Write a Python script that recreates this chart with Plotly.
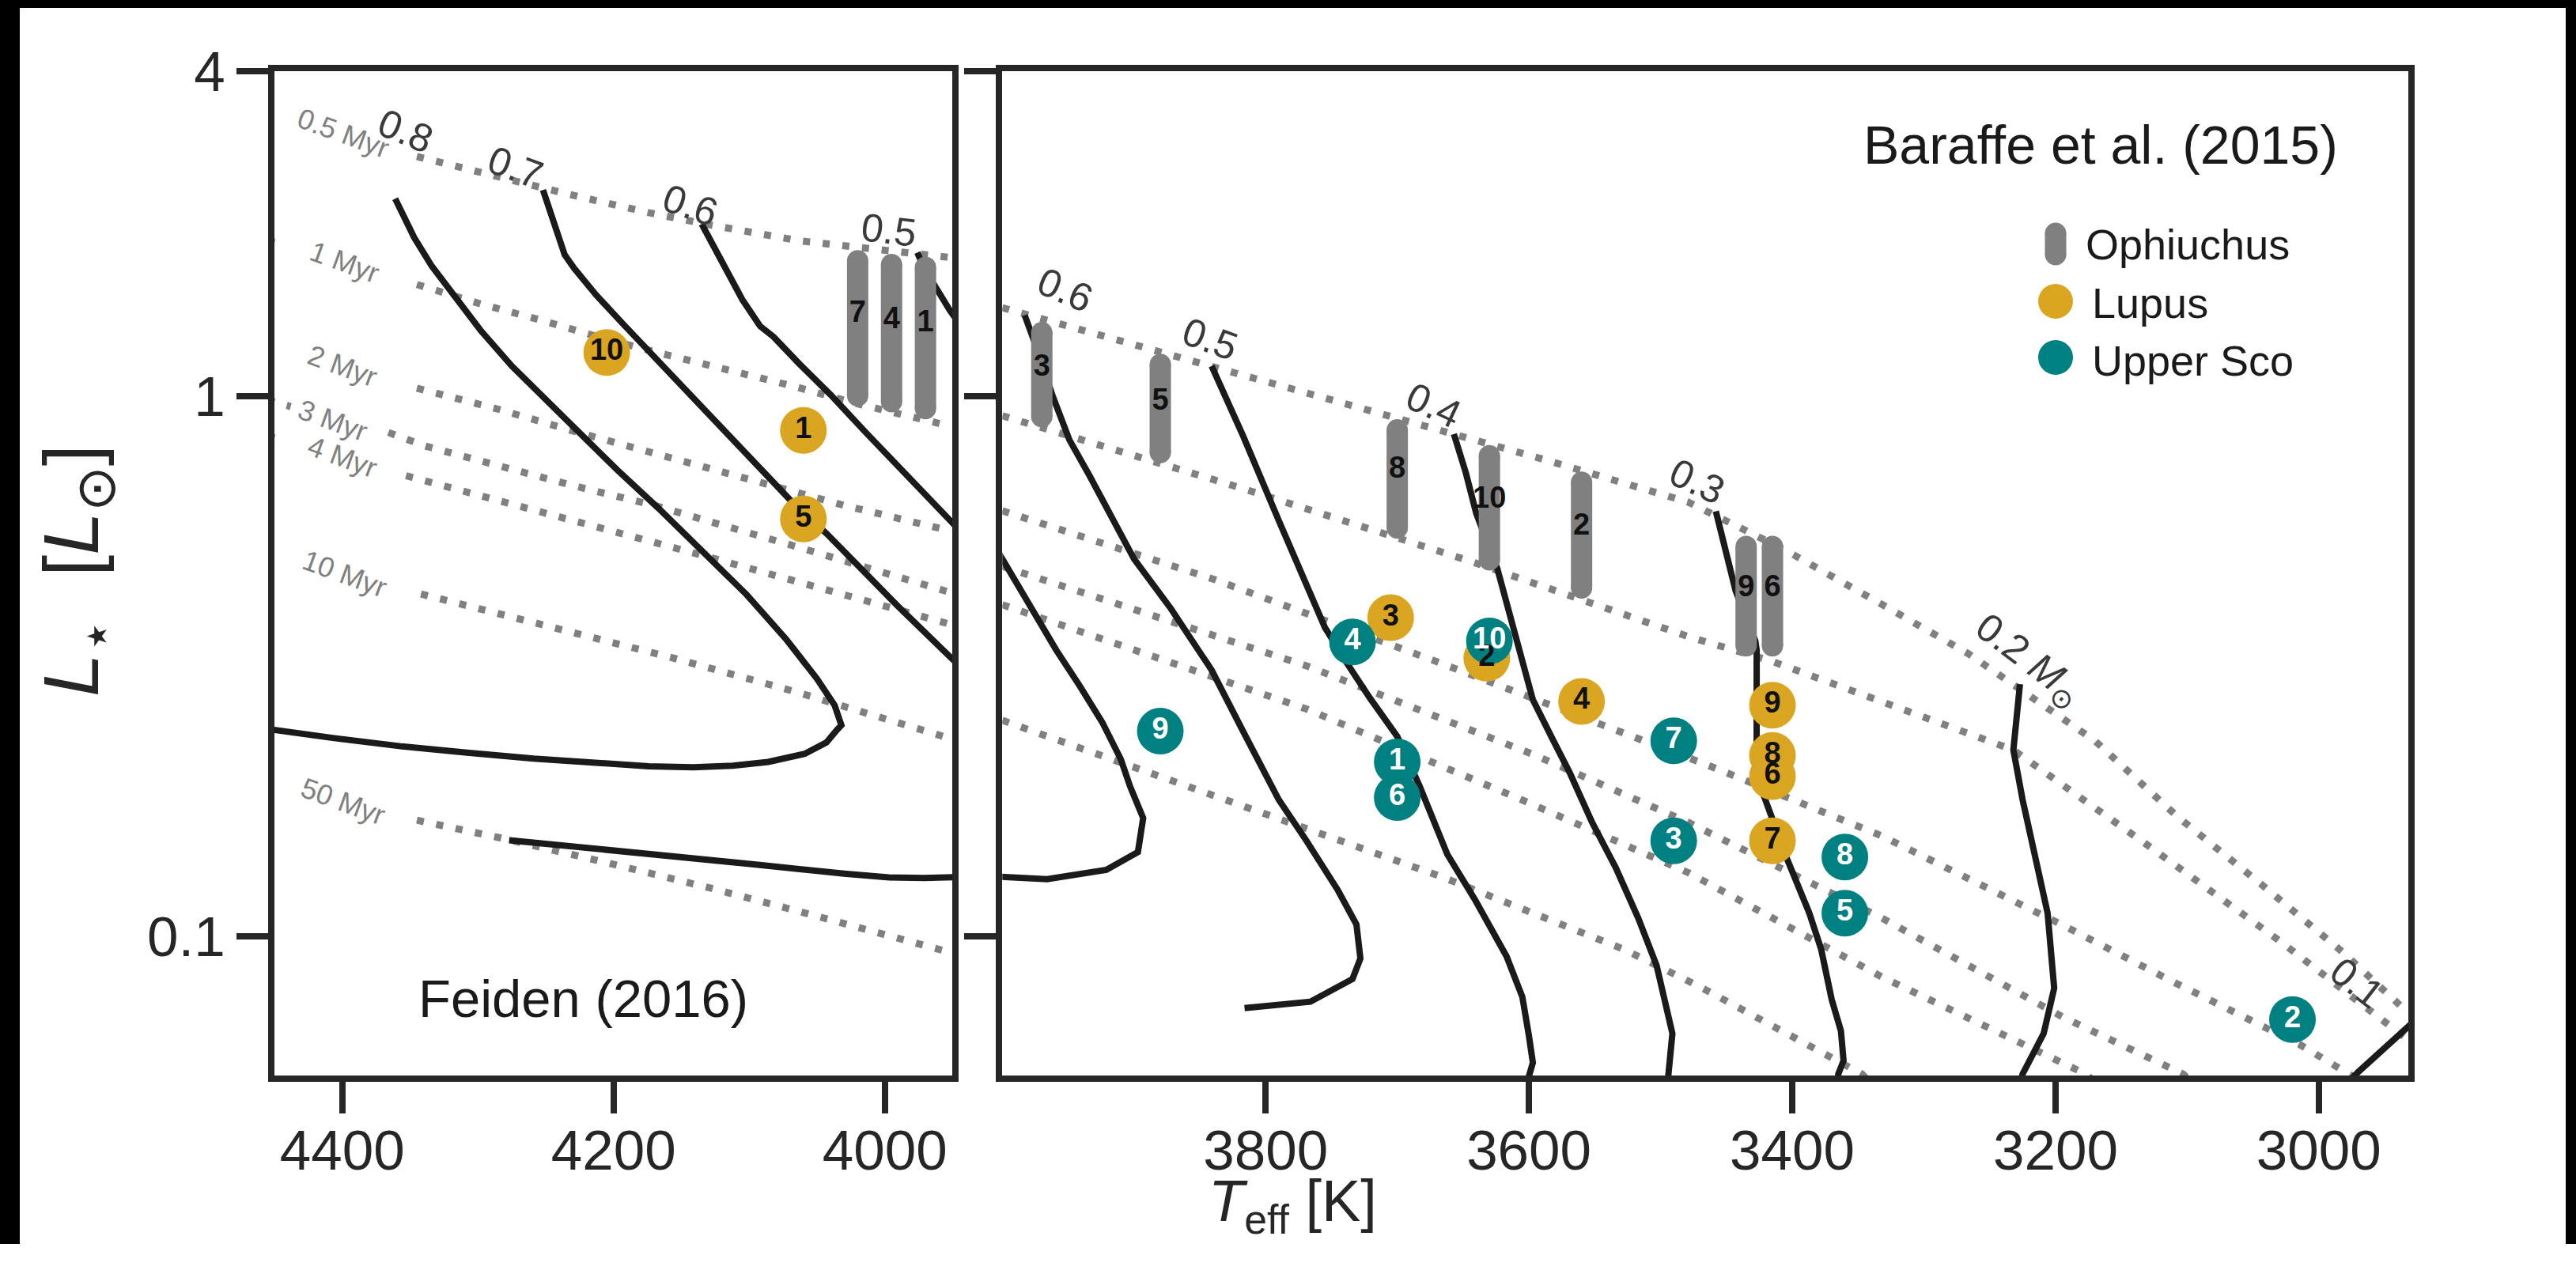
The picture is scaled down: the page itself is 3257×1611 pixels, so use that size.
import numpy as np
import plotly.graph_objects as go

# ------------------------------------------------------------------
# DATA  (Teff in K, luminosity given as log10(L/Lsun))
# ------------------------------------------------------------------
# --- Left panel: Feiden (2016) mass tracks ---
F08_T = [4361, 4357, 4347, 4334, 4317, 4298, 4275, 4252, 4226, 4197, 4167, 4135, 4102, 4073, 4050, 4037, 4032,
         4035, 4043, 4059, 4086, 4112, 4141, 4174, 4210, 4259, 4308, 4357, 4406, 4448, 4461]
F08_LOGL = [0.366, 0.344, 0.294, 0.241, 0.184, 0.122, 0.056, -0.001, -0.067, -0.137, -0.207, -0.285, -0.367, -0.449,
            -0.523, -0.572, -0.609, -0.617, -0.641, -0.662, -0.677, -0.684, -0.687, -0.685, -0.680, -0.671, -0.660,
            -0.648, -0.633, -0.618, -0.614]
F07_T = [4252, 4248, 4242, 4236, 4229, 4213, 4193, 4170, 4144, 4118, 4092, 4069, 4043, 4017, 3991, 3952, 3932]
F07_LOGL = [0.382, 0.352, 0.303, 0.262, 0.237, 0.188, 0.134, 0.073, 0.003, -0.067, -0.137, -0.194, -0.254, -0.322,
            -0.387, -0.482, -0.531]
F06_T = [4135, 4128, 4118, 4105, 4092, 4082, 4063, 4040, 4014, 3988, 3952, 3932]
F06_LOGL = [0.319, 0.286, 0.237, 0.179, 0.130, 0.110, 0.060, 0.003, -0.067, -0.137, -0.231, -0.282]
F05_T = [3976, 3971, 3961, 3952, 3932]
F05_LOGL = [0.266, 0.237, 0.196, 0.159, 0.089]
FLOW_T = [4277, 4226, 4161, 4095, 4030, 3997, 3971, 3952, 3932]
FLOW_LOGL = [-0.822, -0.834, -0.851, -0.867, -0.884, -0.891, -0.892, -0.890, -0.889]

# --- Left panel: Feiden (2016) isochrones ---
FI05_T = [4345, 4291, 4233, 4174, 4128, 4063, 3997, 3952]
FI05_LOGL = [0.444, 0.409, 0.374, 0.340, 0.317, 0.288, 0.268, 0.257]
FI1_T = [4345, 4298, 4252, 4206, 4161, 4113, 4068, 4020, 3952]
FI1_LOGL = [0.207, 0.171, 0.140, 0.106, 0.077, 0.048, 0.019, -0.014, -0.055]
FI1_EDGE_T = [4455, 4443]
FI1_EDGE_LOGL = [0.288, 0.280]
FI2_T = [4345, 4285, 4226, 4161, 4095, 4030, 3952]
FI2_LOGL = [0.015, -0.024, -0.067, -0.112, -0.157, -0.202, -0.249]
FI3_T = [4366, 4339, 4229, 4170, 4063, 3952]
FI3_LOGL = [-0.067, -0.092, -0.166, -0.202, -0.280, -0.363]
FI3_EDGE_T = [4455, 4438]
FI3_EDGE_LOGL = [-0.007, -0.019]
FI4_T = [4353, 4295, 4233, 4170, 4125, 3952]
FI4_LOGL = [-0.147, -0.186, -0.227, -0.268, -0.301, -0.422]
FI4_EDGE_T = [4455, 4445]
FI4_EDGE_LOGL = [-0.074, -0.080]
FI10_T = [4342, 4249, 4157, 4066, 3958, 3950]
FI10_LOGL = [-0.366, -0.426, -0.484, -0.547, -0.629, -0.635]
FI50_T = [4345, 4283, 4206, 4128, 4051, 3958, 3950]
FI50_LOGL = [-0.785, -0.818, -0.863, -0.911, -0.962, -1.026, -1.031]

AGE_LABELS = ["0.5 Myr", "1 Myr", "2 Myr", "3 Myr", "4 Myr", "10 Myr", "50 Myr"]
AGE_LABEL_T = [4399, 4398, 4400, 4407, 4400, 4398, 4399]
AGE_LABEL_LOGL = [0.487, 0.249, 0.056, -0.044, -0.112, -0.328, -0.750]

F_MASS_LABELS = ["0.8", "0.7", "0.6", "0.5"]
F_MASS_T = [4353, 4272, 4143, 3997]
F_MASS_LOGL = [0.491, 0.424, 0.353, 0.307]
F_MASS_ANGLE = [22, 20, 19, 7]

# --- Right panel: Baraffe et al. (2015) mass tracks ---
B07_T = [4010, 3998, 3979, 3959, 3941, 3924, 3910, 3903, 3893, 3897, 3921, 3966, 3998, 4010]
B07_LOGL = [-0.260, -0.310, -0.390, -0.470, -0.537, -0.604, -0.672, -0.722, -0.781, -0.844, -0.877, -0.894, -0.890,
            -0.889]
B06_T = [3983, 3972, 3962, 3955, 3949, 3934, 3917, 3900, 3872, 3841, 3817, 3803, 3790, 3769, 3745, 3731, 3728, 3734,
         3766, 3816]
B06_LOGL = [0.150, 0.077, 0.002, -0.045, -0.081, -0.146, -0.225, -0.301, -0.393, -0.507, -0.621, -0.684, -0.747,
            -0.823, -0.915, -0.978, -1.041, -1.079, -1.121, -1.133]
B05_T = [3841, 3817, 3790, 3762, 3755, 3738, 3721, 3700, 3683, 3662, 3641, 3617, 3605, 3600, 3597, 3600, 3601]
B05_LOGL = [0.056, -0.074, -0.230, -0.393, -0.428, -0.495, -0.558, -0.630, -0.722, -0.848, -0.932, -1.037, -1.112,
            -1.184, -1.234, -1.259, -1.293]
B04_T = [3657, 3648, 3640, 3624, 3610, 3597, 3583, 3569, 3552, 3534, 3517, 3503, 3497, 3491, 3494, 3495]
B04_LOGL = [-0.070, -0.141, -0.217, -0.319, -0.445, -0.562, -0.630, -0.697, -0.789, -0.873, -0.966, -1.054, -1.117,
            -1.180, -1.255, -1.293]
B03_T = [3458, 3451, 3443, 3428, 3427, 3427, 3423, 3404, 3387, 3378, 3370, 3363, 3361, 3365, 3366]
B03_LOGL = [-0.213, -0.280, -0.360, -0.453, -0.470, -0.646, -0.730, -0.856, -0.957, -1.024, -1.117, -1.175, -1.230,
            -1.255, -1.285]
B02_T = [3227, 3232, 3225, 3215, 3206, 3201, 3209, 3225, 3228]
B02_LOGL = [-0.533, -0.655, -0.747, -0.865, -0.957, -1.096, -1.180, -1.255, -1.285]
B01_T = [2980, 2970, 2932, 2918]
B01_LOGL = [-1.276, -1.251, -1.167, -1.135]

# --- Right panel: Baraffe et al. (2015) isochrones ---
BI05_T = [4000, 3907, 3797, 3700, 3590, 3479, 3406, 3335, 3266, 3170, 3108, 3044, 2982, 2932]
BI05_LOGL = [0.164, 0.101, 0.027, -0.042, -0.116, -0.196, -0.284, -0.381, -0.477, -0.638, -0.777, -0.903, -1.029,
             -1.142]
BI1_T = [4000, 3817, 3645, 3479, 3415, 3232, 3125, 3030, 2932]
BI1_LOGL = [-0.036, -0.171, -0.305, -0.445, -0.491, -0.655, -0.840, -1.008, -1.192]
BI2_T = [4000, 3838, 3666, 3479, 3459, 3332, 3194, 3110, 3059, 3014, 2986, 2975, 2966]
BI2_LOGL = [-0.212, -0.340, -0.495, -0.672, -0.688, -0.814, -0.980, -1.085, -1.146, -1.201, -1.242, -1.258, -1.285]
BI3_T = [4000, 3769, 3597, 3479, 3332, 3194, 3103, 3090]
BI3_LOGL = [-0.315, -0.499, -0.663, -0.789, -0.966, -1.150, -1.255, -1.285]
BI4_T = [4000, 3769, 3597, 3479, 3332, 3177, 3163]
BI4_LOGL = [-0.386, -0.579, -0.756, -0.882, -1.075, -1.255, -1.285]
BI10_T = [4000, 3803, 3666, 3528, 3472, 3347, 3335]
BI10_LOGL = [-0.600, -0.772, -0.890, -1.024, -1.091, -1.255, -1.285]

B_MASS_LABELS = ["0.6", "0.5", "0.4", "0.3", "0.2 <i>M</i><sub>\u2299</sub>", "0.1"]
B_MASS_T = [3952, 3842, 3672, 3472, 3221, 2971]
B_MASS_LOGL = [0.197, 0.105, -0.017, -0.158, -0.490, -1.087]
B_MASS_ANGLE = [23, 20, 25, 25, 37, 38]

# --- Objects ---
OPH_L_NUM = ["7", "4", "1"]
OPH_L_T = [4020, 3995, 3970]
OPH_L_LO = [0.001, -0.010, -0.023]
OPH_L_HI = [0.251, 0.244, 0.239]
OPH_L_LAB = [0.151, 0.140, 0.134]

OPH_R_NUM = ["3", "5", "8", "10", "2", "9", "6"]
OPH_R_T = [3970, 3880, 3700, 3630, 3560, 3435, 3415]
OPH_R_LO = [-0.038, -0.104, -0.244, -0.303, -0.355, -0.462, -0.462]
OPH_R_HI = [0.118, 0.059, -0.062, -0.110, -0.159, -0.278, -0.278]
OPH_R_LAB = [0.052, -0.011, -0.137, -0.192, -0.242, -0.356, -0.356]

LUP_L_NUM = ["10", "1", "5"]
LUP_L_T = [4205, 4060, 4060]
LUP_L_LOGL = [0.081, -0.063, -0.227]

LUP_R_NUM = ["3", "2", "4", "9", "8", "6", "7"]
LUP_R_T = [3705, 3632, 3560, 3415, 3415, 3415, 3415]
LUP_R_LOGL = [-0.410, -0.485, -0.565, -0.572, -0.665, -0.704, -0.823]

USCO_NUM = ["4", "10", "9", "1", "6", "7", "3", "8", "5", "2"]
USCO_T = [3734, 3630, 3880, 3700, 3700, 3490, 3490, 3360, 3360, 3020]
USCO_LOGL = [-0.455, -0.453, -0.620, -0.677, -0.743, -0.638, -0.823, -0.853, -0.957, -1.154]

# ------------------------------------------------------------------
# STYLE
# ------------------------------------------------------------------
W, H = 3257, 1573
ML, MR, MT, MB = 347, 212, 90, 213
PW, PH = W - ML - MR, H - MT - MB
FONT = "Liberation Sans, Arial, Helvetica, sans-serif"
AXC = "#262626"
GRAY = "#808080"
GOLD = "#DAA520"
TEAL = "#008080"
TRK = "#1a1a1a"


def px(X):
    return (X - ML) / PW


def py(Y):
    return (H - MB - Y) / PH


def lin(v):
    return list(10 ** np.array(v, dtype=float))


fig = go.Figure()


def line(T, logL, xa, ya, color, width, dash=None):
    d = dict(color=color, width=width)
    if dash:
        d["dash"] = dash
    fig.add_trace(go.Scatter(x=T, y=lin(logL), mode="lines", line=d, xaxis=xa, yaxis=ya,
                             showlegend=False, hoverinfo="skip"))


DOT = "9px,16px"
# isochrones (dotted)
for T, L in [(FI05_T, FI05_LOGL), (FI1_T, FI1_LOGL), (FI1_EDGE_T, FI1_EDGE_LOGL), (FI2_T, FI2_LOGL),
             (FI3_T, FI3_LOGL), (FI3_EDGE_T, FI3_EDGE_LOGL), (FI4_T, FI4_LOGL), (FI4_EDGE_T, FI4_EDGE_LOGL),
             (FI10_T, FI10_LOGL), (FI50_T, FI50_LOGL)]:
    line(T, L, "x", "y", GRAY, 9, DOT)
for T, L in [(BI05_T, BI05_LOGL), (BI1_T, BI1_LOGL), (BI2_T, BI2_LOGL), (BI3_T, BI3_LOGL),
             (BI4_T, BI4_LOGL), (BI10_T, BI10_LOGL)]:
    line(T, L, "x2", "y2", GRAY, 9, DOT)

# mass tracks (solid)
for T, L in [(F08_T, F08_LOGL), (F07_T, F07_LOGL), (F06_T, F06_LOGL), (F05_T, F05_LOGL), (FLOW_T, FLOW_LOGL)]:
    line(T, L, "x", "y", TRK, 8)
for T, L in [(B07_T, B07_LOGL), (B06_T, B06_LOGL), (B05_T, B05_LOGL), (B04_T, B04_LOGL), (B03_T, B03_LOGL),
             (B02_T, B02_LOGL), (B01_T, B01_LOGL)]:
    line(T, L, "x2", "y2", TRK, 8)

# Ophiuchus capsules
CAP = 27
for Ts, LO, HI, xa, ya in [(OPH_L_T, OPH_L_LO, OPH_L_HI, "x", "y"), (OPH_R_T, OPH_R_LO, OPH_R_HI, "x2", "y2")]:
    for t, lo, hi in zip(Ts, LO, HI):
        fig.add_trace(go.Scatter(x=[t, t], y=lin([lo, hi]), mode="lines+markers",
                                 line=dict(color=GRAY, width=CAP),
                                 marker=dict(color=GRAY, size=CAP, line=dict(width=0)),
                                 xaxis=xa, yaxis=ya, showlegend=False, hoverinfo="skip", cliponaxis=False))

MS = 59
# Lupus circles
fig.add_trace(go.Scatter(x=LUP_L_T, y=lin(LUP_L_LOGL), mode="markers", marker=dict(color=GOLD, size=MS, line=dict(width=0)),
                         xaxis="x", yaxis="y", showlegend=False, hoverinfo="skip"))
fig.add_trace(go.Scatter(x=LUP_R_T, y=lin(LUP_R_LOGL), mode="markers", marker=dict(color=GOLD, size=MS, line=dict(width=0)),
                         xaxis="x2", yaxis="y2", showlegend=False, hoverinfo="skip"))
# Upper Sco circles
fig.add_trace(go.Scatter(x=USCO_T, y=lin(USCO_LOGL), mode="markers", marker=dict(color=TEAL, size=MS, line=dict(width=0)),
                         xaxis="x2", yaxis="y2", showlegend=False, hoverinfo="skip"))

# numbers
NUMF = 38


def nums(T, L, txt, xa, ya, color):
    fig.add_trace(go.Scatter(x=T, y=lin(L), mode="text", text=txt, textposition="middle center",
                             textfont=dict(family=FONT, size=NUMF, color=color, weight="bold"),
                             xaxis=xa, yaxis=ya, showlegend=False, hoverinfo="skip"))


nums(OPH_L_T, OPH_L_LAB, OPH_L_NUM, "x", "y", "#111111")
nums(OPH_R_T, OPH_R_LAB, OPH_R_NUM, "x2", "y2", "#111111")
nums(LUP_L_T, LUP_L_LOGL, LUP_L_NUM, "x", "y", "#111111")
nums(LUP_R_T, LUP_R_LOGL, LUP_R_NUM, "x2", "y2", "#111111")
nums(USCO_T, USCO_LOGL, USCO_NUM, "x2", "y2", "white")

ann = []
for s, t, l in zip(AGE_LABELS, AGE_LABEL_T, AGE_LABEL_LOGL):
    ann.append(dict(text=s, x=t, y=l, xref="x", yref="y", showarrow=False, textangle=20,
                    font=dict(family=FONT, size=36, color=GRAY)))
for s, t, l, a in zip(F_MASS_LABELS, F_MASS_T, F_MASS_LOGL, F_MASS_ANGLE):
    ann.append(dict(text=s, x=t, y=l, xref="x", yref="y", showarrow=False, textangle=a,
                    font=dict(family=FONT, size=50, color="#3a3a3a")))
for s, t, l, a in zip(B_MASS_LABELS, B_MASS_T, B_MASS_LOGL, B_MASS_ANGLE):
    ann.append(dict(text=s, x=t, y=l, xref="x2", yref="y2", showarrow=False, textangle=a,
                    font=dict(family=FONT, size=50, color="#3a3a3a")))

# panel titles
ann.append(dict(text="Feiden (2016)", x=px(737), y=py(1262), xref="paper", yref="paper", showarrow=False,
                xanchor="center", yanchor="middle", font=dict(family=FONT, size=67, color="#1a1a1a")))
ann.append(dict(text="Baraffe et al. (2015)", x=px(2656), y=py(183), xref="paper", yref="paper", showarrow=False,
                xanchor="center", yanchor="middle", font=dict(family=FONT, size=68, color="#1a1a1a")))
# legend texts
for s, X, Y in [("Ophiuchus", 2635, 309), ("Lupus", 2643, 383), ("Upper Sco", 2643, 456)]:
    ann.append(dict(text=s, x=px(X), y=py(Y), xref="paper", yref="paper", showarrow=False,
                    xanchor="left", yanchor="middle", font=dict(family=FONT, size=54, color="#1a1a1a")))
# axis titles
ann.append(dict(text="<i>T</i><sub>eff</sub> [K]", x=px(1634), y=py(1524), xref="paper", yref="paper",
                showarrow=False, xanchor="center", yanchor="middle", font=dict(family=FONT, size=74, color=AXC)))
ann.append(dict(text="<i>L</i><sub>\u22c6</sub>&nbsp; [<i>L</i><sub>\u2299</sub>]", x=px(97), y=py(722),
                xref="paper", yref="paper", showarrow=False, textangle=-90, xanchor="center", yanchor="middle",
                font=dict(family=FONT, size=98, color=AXC)))

shapes = []
# black frame strips around the page (left, top, right)
for x0, x1, y0, y1 in [(-20, 25, -20, 1700), (-20, 3300, -20, 10), (3244, 3300, -20, 1700)]:
    shapes.append(dict(type="rect", xref="paper", yref="paper", x0=px(x0), x1=px(x1), y0=py(y1), y1=py(y0),
                       fillcolor="black", line=dict(width=0), layer="above"))
# legend symbols
cx = px(2599)
rx = 13.5 / PW
ry = 13.5 / PH
shapes.append(dict(type="rect", xref="paper", yref="paper", x0=cx - rx, x1=cx + rx, y0=py(322), y1=py(295),
                   fillcolor=GRAY, line=dict(width=0)))
for Y in (295, 322):
    shapes.append(dict(type="circle", xref="paper", yref="paper", x0=cx - rx, x1=cx + rx, y0=py(Y) - ry,
                       y1=py(Y) + ry, fillcolor=GRAY, line=dict(width=0)))
R = 22
for Y, c in ((381, GOLD), (452, TEAL)):
    shapes.append(dict(type="circle", xref="paper", yref="paper", x0=cx - R / PW, x1=cx + R / PW,
                       y0=py(Y) - R / PH, y1=py(Y) + R / PH, fillcolor=c, line=dict(width=0)))

axis_common = dict(showline=True, linecolor=AXC, linewidth=8, mirror=True, ticks="outside", ticklen=40,
                   tickwidth=8, tickcolor=AXC, showgrid=False, zeroline=False,
                   tickfont=dict(family=FONT, size=71, color=AXC))

fig.update_layout(
    width=W, height=H,
    margin=dict(l=ML, r=MR, t=MT, b=MB, pad=0),
    paper_bgcolor="white", plot_bgcolor="white",
    showlegend=False,
    xaxis=dict(domain=[0, 0.3178], range=[4450, 3950], tickvals=[4400, 4200, 4000], anchor="y",
               ticklabelstandoff=-14, **axis_common),
    xaxis2=dict(domain=[0.3411, 1], range=[4000, 2932], tickvals=[3800, 3600, 3400, 3200, 3000], anchor="y2",
                ticklabelstandoff=-14, **axis_common),
    yaxis=dict(type="log", range=[-1.2577, 0.602], tickvals=[0.1, 1, 4], ticktext=["0.1", "1", "4"], anchor="x",
               **axis_common),
    yaxis2=dict(type="log", range=[-1.2577, 0.602], tickvals=[0.1, 1, 4], showticklabels=False, anchor="x2",
                matches="y", **axis_common),
    annotations=ann,
    shapes=shapes,
)

fig.write_html("out.html")
